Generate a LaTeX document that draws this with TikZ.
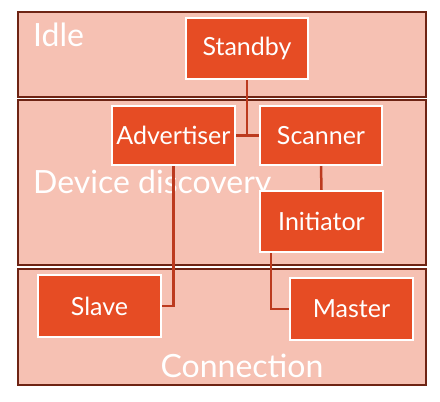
\documentclass[tikz,border=0pt]{standalone}
\usepackage{fontspec}
\setmainfont{Lato}
\definecolor{panelfill}{HTML}{F6C1B3}
\definecolor{paneldraw}{HTML}{6E2414}
\definecolor{boxfill}{HTML}{E64C24}
\definecolor{linkcol}{HTML}{BC3A1E}
\tikzset{
  panel/.style={fill=panelfill, draw=paneldraw, line width=2.5pt},
  panellabel/.style={text=white, inner sep=0pt, font=\fontsize{32}{36}\selectfont},
  statebox/.style={rectangle, fill=boxfill, draw=white, line width=2.2pt, inner sep=0pt,
    text=white, font=\fontsize{25}{29}\selectfont},
  link/.style={draw=linkcol, line width=2.5pt}
}
\begin{document}
\begin{tikzpicture}[x=1pt, y=-1pt]
\useasboundingbox (0,0) rectangle (440,402);
% panels
\draw[panel] (18,12) rectangle (426,97);
\draw[panel] (18,100) rectangle (426,265);
\draw[panel] (18,269) rectangle (426,385);
% panel labels
\node[panellabel, anchor=base west] (lidle) at (33,46) {Idle};
\node[panellabel, anchor=base west] (ldisc) at (33,193) {Device discovery};
\node[panellabel, anchor=base] (lconn) at (242,377) {Connection};
% state boxes
\node[statebox, minimum width=122pt, minimum height=61pt] (standby) at (247,48.5) {Standby};
\node[statebox, minimum width=123pt, minimum height=59pt] (adv) at (173.5,135.5) {Advertiser};
\node[statebox, minimum width=122pt, minimum height=59pt] (scan) at (321,135.5) {Scanner};
\node[statebox, minimum width=123pt, minimum height=61pt] (init) at (321.5,221.5) {Initiator};
\node[statebox, minimum width=123pt, minimum height=62pt] (slave) at (99.5,306) {Slave};
\node[statebox, minimum width=123pt, minimum height=62pt] (master) at (351.5,309) {Master};
% connectors
\draw[link] (adv.east) -- (scan.west);
\draw[link] (standby.south) -- (standby.south |- adv.east);
\draw[link] (adv.south) |- (slave.east);
\draw[link] (scan.south) -- (init.north);
\coordinate (initout) at ([xshift=12pt] init.south west);
\draw[link] (initout) |- (master.west);
\end{tikzpicture}
\end{document}
